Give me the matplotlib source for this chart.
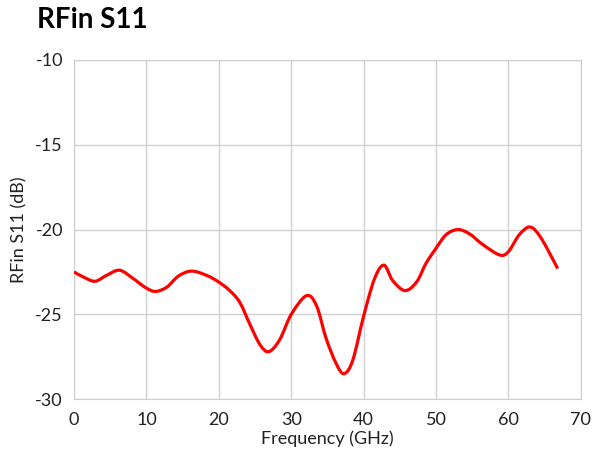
import matplotlib
matplotlib.use("Agg")
import matplotlib.pyplot as plt
from matplotlib.path import Path
from matplotlib.patches import PathPatch
import numpy as np

plt.rcParams['font.family'] = ['Lato', 'DejaVu Sans']
plt.rcParams['axes.unicode_minus'] = False

# values
freq_ghz = [0, 1.3, 2.9, 4.5, 6.3, 8.2, 9.8, 11.2, 12.8, 14.4, 16.2, 18.3, 20.0,
            21.5, 22.9, 24.3, 25.7, 26.9, 28.4, 30.0, 32.1, 33.5, 34.8, 36.2,
            37.3, 38.5, 40.0, 41.5, 42.8, 44.0, 45.7, 47.3, 48.6, 50.0, 51.4,
            53.0, 54.6, 56.5, 58.8, 60.0, 61.5, 63.0, 64.5, 66.8]
s11_db = [-22.5, -22.8, -23.05, -22.7, -22.4, -22.9, -23.4, -23.65, -23.4, -22.75,
          -22.45, -22.7, -23.1, -23.6, -24.3, -25.6, -26.8, -27.2, -26.5, -25.0,
          -23.9, -24.5, -26.4, -27.9, -28.5, -27.7, -25.1, -22.9, -22.1, -23.0,
          -23.6, -23.1, -22.0, -21.1, -20.3, -20.0, -20.25, -20.9, -21.5, -21.3,
          -20.3, -19.85, -20.5, -22.3]

x_ticks = [0, 10, 20, 30, 40, 50, 60, 70]
y_ticks = [-30, -25, -20, -15, -10]

fig = plt.figure(figsize=(5.97, 4.51), dpi=100)
ax = fig.add_axes([0.124, 0.115, 0.849, 0.752])

# smooth curve (Catmull-Rom -> cubic Bezier, like a spreadsheet smoothed line)
pts = np.column_stack([freq_ghz, s11_db])
verts = [pts[0]]
codes = [Path.MOVETO]
for i in range(len(pts) - 1):
    p0 = pts[i - 1] if i > 0 else pts[i]
    p1 = pts[i]
    p2 = pts[i + 1]
    p3 = pts[i + 2] if i + 2 < len(pts) else pts[i + 1]
    c1 = p1 + (p2 - p0) / 6.0
    c2 = p2 - (p3 - p1) / 6.0
    verts += [c1, c2, p2]
    codes += [Path.CURVE4] * 3
ax.add_patch(PathPatch(Path(verts, codes), facecolor='none', edgecolor='#FF0000',
                       lw=2.3, capstyle='butt', zorder=3))

ax.set_xlim(0, 70)
ax.set_ylim(-30, -10)
ax.set_xticks(x_ticks)
ax.set_yticks(y_ticks)
ax.grid(True, color='#D0D0D0', lw=1.0)
for s in ax.spines.values():
    s.set_color('#D0D0D0')
ax.tick_params(length=0, labelsize=13, colors='#222222')
ax.tick_params(axis='x', pad=9)
ax.tick_params(axis='y', pad=8)
ax.set_xlabel('Frequency (GHz)', fontsize=13, color='#222222', labelpad=2)
ax.set_ylabel('RFin S11 (dB)', fontsize=13, color='#222222', labelpad=6)

fig.text(0.062, 0.955, 'RFin S11', fontsize=20, fontweight='bold', va='center', ha='left')

fig.savefig('out.png', dpi=100)
